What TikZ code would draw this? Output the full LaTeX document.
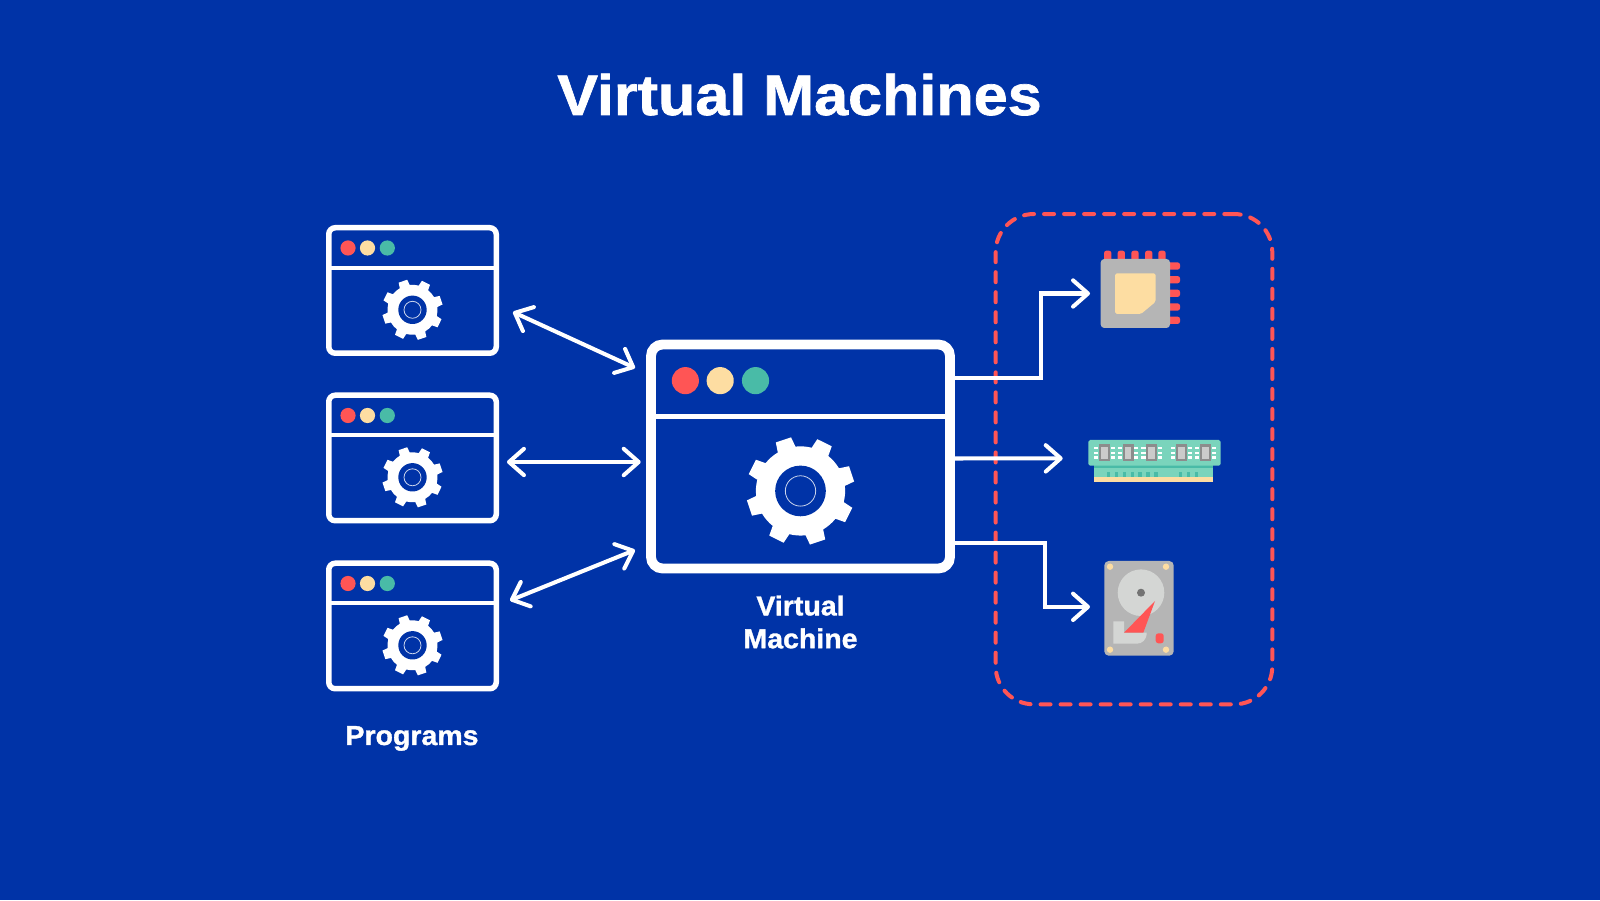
\documentclass[tikz,border=0pt]{standalone}
\usepackage{fontspec}
\setmainfont{Liberation Sans}
\newfontfamily\headfont[FakeStretch=1.07,FakeBold=1.2]{Liberation Sans Bold}
\newfontfamily\labelfont[FakeStretch=1.04,FakeBold=1.2]{Liberation Sans Bold}
\usetikzlibrary{calc}
\usetikzlibrary{arrows.meta}
\definecolor{vmblue}{HTML}{0033A7}
\definecolor{dotred}{HTML}{FF5555}
\definecolor{dotyellow}{HTML}{FDDDA2}
\definecolor{dotteal}{HTML}{49BBA7}
\definecolor{ramteal}{HTML}{7AD4BC}
\definecolor{partgrey}{HTML}{B5B5B5}
\definecolor{disclight}{HTML}{D4D6D4}
\def\pxu{0.02cm}
\tikzset{
	app window/.pic={
		\tikzset{%
			/appwin/.cd,
			#1
		}
		\node[draw=white,inner sep=0pt,outer sep=0pt,line width=5.5*\winscale*\pxu,minimum width=167.5*\winscale*\pxu,minimum height=125.5*\winscale*\pxu,rounded corners=6.5*\winscale*\pxu] (frame) at (0,0) {};
		\begin{scope}[scale=\winscale]
			\draw[white,line width=\winrule*\pxu] (-83.75,22.5) -- (83.75,22.5);
			\fill[dotred] (-64.5,42.5) circle (7.6);
			\fill[dotyellow] (-45,42.5) circle (7.6);
			\fill[dotteal] (-25.2,42.5) circle (7.6);
			\begin{scope}[shift={(0,-19.3)}]
				\fill[white] (6.5:25) \foreach \a in {18.5,63.5,...,333.5} {
					-- ({\a-12}:25) -- ({\a-8.5}:30.5) -- ({\a+8.5}:30.5) -- ({\a+12}:25) arc[start angle=\a+12,end angle=\a+33,radius=25]
				} -- cycle;
				\fill[vmblue] (0,0) circle (14.2);
				\draw[white,opacity=.8,line width=.45pt] (0,0) circle (8.5);
			\end{scope}
		\end{scope}
	},
	/appwin/.search also={/tikz},
	/appwin/.cd,
	size/.store in=\winscale,
	rule/.store in=\winrule,
	size=1,
	rule=4,
}
\tikzset{
	>={Straight Barb[round,length=8.5pt,width=15pt]},
	link/.style={white,line width=2.3pt},
	label/.style={white,font=\fontsize{15.6}{18.7}\labelfont,align=center,inner sep=0pt},
	part/.style={inner sep=0pt,outer sep=0pt,rounded corners=2pt},
}
\begin{document}
\begin{tikzpicture}[x=\pxu,y=\pxu]
		\fill[vmblue] (0,0) rectangle (1600,900);
		\node[white,font=\fontsize{32.5}{40}\headfont,inner sep=0pt,anchor=base] (title) at (799.5,785) {Virtual Machines};
		% programs and the machine
		\foreach \i/\y in {1/609.5,2/442,3/274} {
			\pic (win\i) at (412.5,\y) {app window={size=1,rule=4}};
		}
		\pic (vm) at (800.5,443.5) {app window={size=1.785,rule=5}};
		\node[label,anchor=base] (programs) at (412,155) {Programs};
		\node[label] (vmlabel) at (800.5,278) {Virtual\\Machine};
		% hardware box
		\node[draw=dotred,line width=4*\pxu,dash pattern=on 5.7pt off 5.7pt,line cap=round,inner sep=0pt,minimum width=276.6*\pxu,minimum height=490.3*\pxu,rounded corners=38*\pxu] (hwbox) at (1134,440.8) {};
		% cpu
		\foreach \x in {1107.7,1121.3,1135,1148.7,1162} {
			\fill[dotred,rounded corners=1.3pt] ({\x-3.65},630) rectangle ({\x+3.65},649.3);
		}
		\foreach \y in {634,620.3,606.7,593,579.7} {
			\fill[dotred,rounded corners=1.3pt] (1160,{\y-3.6}) rectangle (1180,{\y+3.6});
		}
		\node[part,fill=partgrey,minimum width=69.3*\pxu,minimum height=69*\pxu] (cpu) at (1135.35,606.5) {};
		\fill[dotyellow,rounded corners=1pt] (1115,626.7) -- (1155.7,626.7) -- (1155.7,598.3) -- (1141,586) -- (1115,586) -- cycle;
		% ram
		\fill[ramteal] (1094.3,436) rectangle (1213.3,422);
		\fill[dotteal] (1094.3,436) rectangle (1213.3,431.5);
		\fill[dotyellow] (1094.3,422.7) rectangle (1213.3,418.3);
		\foreach \x in {1108.7,1116.7,1124.3,1132.3,1140,1148,1156,1180.7,1188.3,1196.3} {
			\fill[dotteal] ({\x-1.7},423) rectangle ({\x+1.7},427.5);
		}
		\node[part,fill=ramteal,minimum width=132.4*\pxu,minimum height=25.7*\pxu,rounded corners=1pt] (ram) at (1154.5,447.15) {};
		\foreach \x in {1104.3,1128,1151.7,1181.3,1205.3} {
			\foreach \d in {-4.8,0,4.8} {
				\fill[white] ({\x-10.3},{447+\d-1.3}) rectangle ({\x+10.3},{447+\d+1.3});
			}
			\fill[ramteal] ({\x-6.2},436) rectangle ({\x+6.2},458);
			\fill[black!45] ({\x-5.5},438.5) rectangle ({\x+5.5},455.5);
			\fill[partgrey!70] ({\x-3.4},440.7) rectangle ({\x+3.4},453.3);
		}
		% disk
		\node[part,fill=partgrey,minimum width=69.4*\pxu,minimum height=94.7*\pxu,rounded corners=2.5pt] (hdd) at (1139,291.65) {};
		\foreach \x/\y in {1110/333.3,1166/333.3,1110/250.3,1166/250.3} {
			\fill[dotyellow] (\x,\y) circle (3.2);
		}
		\fill[disclight] (1141,307.3) circle (23.3);
		\fill[black!55] (1141,307.3) circle (4);
		\fill[disclight] (1113.3,278.7) -- (1124,278.7) -- (1124,267.3) -- (1146.7,267.3) .. controls (1146.7,260) and (1142,256.3) .. (1136.7,256.3) -- (1113.3,256.3) -- cycle;
		\fill[dotred] (1155,299) -- (1124,267.3) -- (1143.3,267.3) -- cycle;
		\fill[dotred,rounded corners=1.5pt] (1155.7,266.7) rectangle (1163.7,256.7);
		% connectors
		\draw[link,<->] ($ (win1frame.east) + (16.75,-21.5) $) -- ($ (vmframe.west) + (-16,88.5) $);
		\draw[link,<->] ($ (win2frame.east) + (10.75,-4) $) -- ($ (vmframe.west) + (-10.3,-5.5) $);
		\draw[link,<->] ($ (win3frame.east) + (13.75,25.5) $) -- ($ (vmframe.west) + (-16,-93.5) $);
		\coordinate (cpuin) at ($ (cpu.west) + (-10.7,0) $);
		\coordinate (ramin) at ($ (ram.west) + (-25.6,-5.5) $);
		\coordinate (hddin) at ($ (hdd.west) + (-14.3,1.5) $);
		\draw[link,->] ($ (vmframe.east) + (0,78.5) $) -- ++(91,0) |- (cpuin);
		\draw[link,->] ($ (vmframe.east) + (0,-2) $) -- (ramin);
		\draw[link,->] ($ (vmframe.east) + (0,-86.5) $) -- ++(95,0) |- (hddin);
	\end{tikzpicture}
\end{document}
